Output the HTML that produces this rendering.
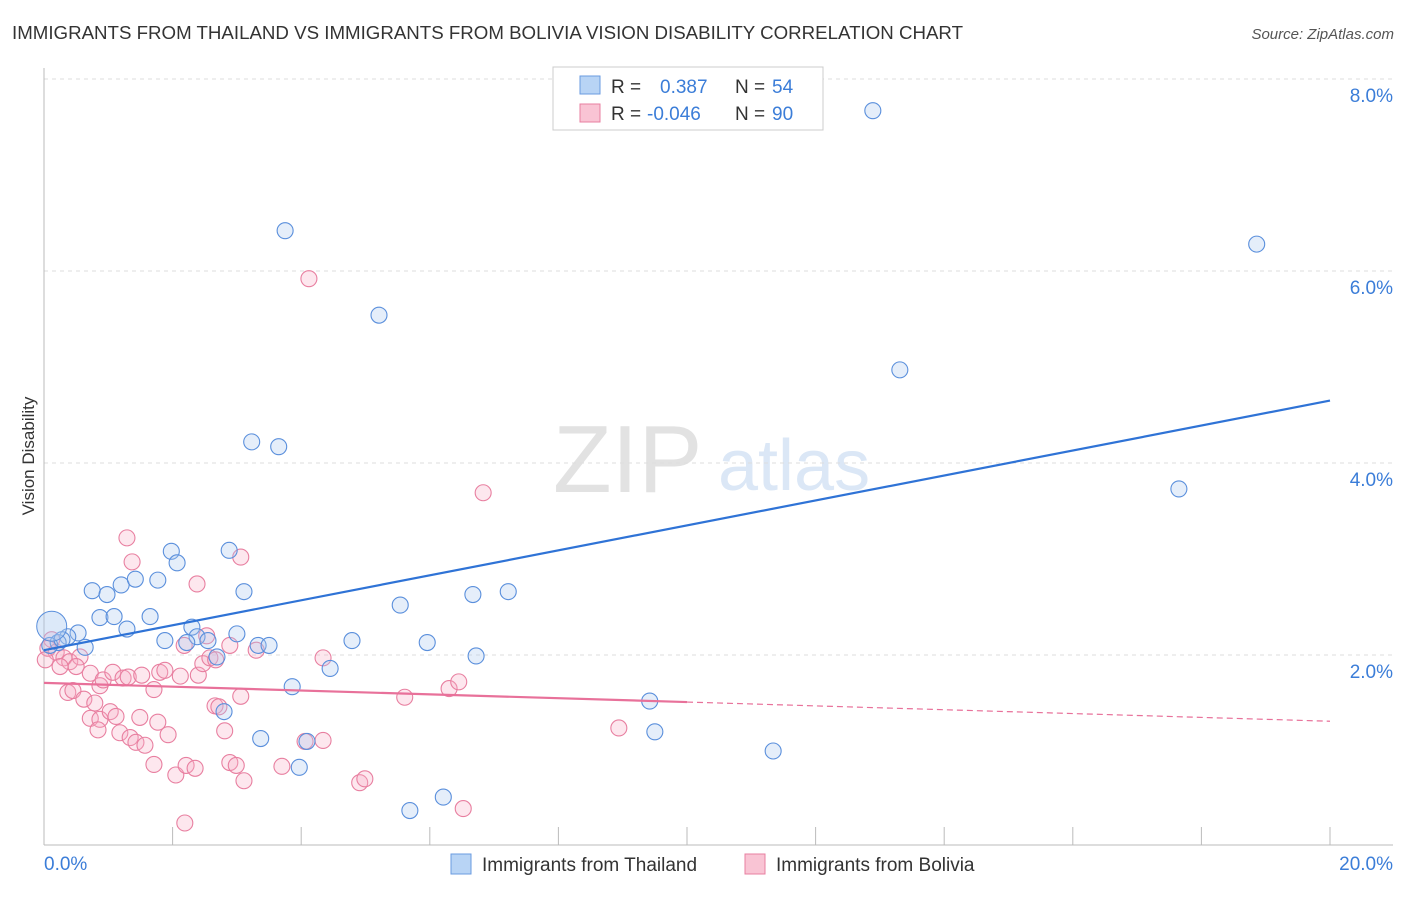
<!DOCTYPE html>
<html><head><meta charset="utf-8"><style>
body{margin:0;background:#fff;font-family:"Liberation Sans",sans-serif;}
svg text{font-family:"Liberation Sans",sans-serif;}
</style></head><body>
<svg id="chart" width="1406" height="892" xmlns="http://www.w3.org/2000/svg">
<text x="12" y="39" font-size="18" fill="#333" textLength="951" lengthAdjust="spacingAndGlyphs">IMMIGRANTS FROM THAILAND VS IMMIGRANTS FROM BOLIVIA VISION DISABILITY CORRELATION CHART</text>
<text x="1394" y="39" font-size="15" fill="#555" text-anchor="end" font-style="italic">Source: ZipAtlas.com</text>
<g>
<text x="553" y="492" font-size="96" fill="#e2e2e2" font-family="Liberation Serif">ZIP</text>
<text x="718" y="490" font-size="72" fill="#dbe7f6">atlas</text>
</g>
<g id="grid"></g>
<g id="axes"></g>
<g id="marks"></g>
<text transform="translate(34,456) rotate(-90)" font-size="17" fill="#333" text-anchor="middle">Vision Disability</text>
<g>
<rect x="553" y="67" width="270" height="63" fill="#fff" stroke="#ccc"/>
<rect x="580" y="76" width="20" height="18" fill="#b8d4f5" stroke="#6a9be0"/>
<rect x="580" y="104" width="20" height="18" fill="#f9c4d4" stroke="#e87fa0"/>
<text x="611" y="93" font-size="19" fill="#333">R =</text>
<text x="660" y="93" font-size="19" fill="#3b7dd8">0.387</text>
<text x="735" y="93" font-size="19" fill="#333">N =</text>
<text x="772" y="93" font-size="19" fill="#3b7dd8">54</text>
<text x="611" y="120" font-size="19" fill="#333">R =</text>
<text x="647" y="120" font-size="19" fill="#3b7dd8">-0.046</text>
<text x="735" y="120" font-size="19" fill="#333">N =</text>
<text x="772" y="120" font-size="19" fill="#3b7dd8">90</text>
</g>
<g>
<rect x="451" y="854" width="20" height="20" fill="#b8d4f5" stroke="#6a9be0"/>
<text x="482" y="871" font-size="19" fill="#333">Immigrants from Thailand</text>
<rect x="745" y="854" width="20" height="20" fill="#f9c4d4" stroke="#e87fa0"/>
<text x="776" y="871" font-size="19" fill="#333">Immigrants from Bolivia</text>
</g>
</svg>
<script>
const yTicks=[2,4,6,8];
const yTickLabels=["2.0%","4.0%","6.0%","8.0%"];
const xTickLabels=["0.0%","20.0%"];
const thaiPx=[[873,111],[285,231],[1257,244],[379,315],[900,370],[252,442],[279,447],[1179,489],[229,550],[171,551],[177,563],[92,591],[121,585],[135,579],[158,580],[107,595],[244,592],[400,605],[473,595],[508,592],[100,618],[114,617],[150,617],[127,629],[192,627],[78,633],[68,637],[58,643],[50,645],[85,647],[165,641],[197,637],[208,641],[237,634],[258,645],[269,645],[352,641],[427,643],[187,643],[217,657],[330,668],[476,656],[292,687],[224,712],[650,701],[655,732],[261,739],[307,741],[773,751],[299,767],[410,811],[443,797],[62,640]];
const boliviaPx=[[309,279],[483,493],[127,538],[132,562],[241,557],[197,584],[52,640],[48,648],[56,652],[64,658],[70,662],[80,657],[76,667],[90,673],[100,686],[103,680],[113,672],[123,678],[128,677],[142,675],[154,690],[160,672],[165,670],[180,676],[198,675],[203,664],[210,658],[216,660],[207,636],[230,645],[256,650],[323,658],[405,697],[449,689],[459,682],[241,696],[184,645],[68,692],[73,691],[84,699],[95,703],[90,718],[100,719],[110,712],[116,716],[140,717],[158,722],[168,735],[120,733],[130,738],[136,742],[145,745],[98,730],[215,706],[219,707],[225,731],[230,763],[236,765],[154,764],[176,775],[186,765],[195,768],[244,781],[282,766],[305,741],[323,740],[360,783],[365,779],[463,809],[185,823],[619,728],[45,660],[60,667]];
const thaiX=thaiPx.map(p=>+((p[0]-44)/64.3).toFixed(2));
const thaiY=thaiPx.map(p=>+((847-p[1])/96).toFixed(2));
const bolX=boliviaPx.map(p=>+((p[0]-44)/64.3).toFixed(2));
const bolY=boliviaPx.map(p=>+((847-p[1])/96).toFixed(2));
const thaiTrend=[2.05,4.65];
const bolTrend=[1.71,1.31];
const bolSolidEnd=10;
const sx=v=>44+v*64.3, sy=v=>847-v*96;
const NS="http://www.w3.org/2000/svg";
function mk(t,a,p){const e=document.createElementNS(NS,t);for(const k in a)e.setAttribute(k,a[k]);p.appendChild(e);return e;}
const grid=document.getElementById('grid'),axes=document.getElementById('axes'),marks=document.getElementById('marks');
yTicks.forEach((t,i)=>{
 const l=mk('line',{x1:44,x2:1393,y1:sy(t),y2:sy(t),stroke:'#ddd','stroke-dasharray':'4,4'},grid);
 
 
 const tx=mk('text',{x:1393,y:sy(t)+23,'font-size':19,fill:'#3b7dd8','text-anchor':'end'},axes);
 tx.textContent=yTickLabels[i];
 
 
});
mk('line',{x1:44,x2:44,y1:68,y2:845,stroke:'#bbb'},axes);
mk('line',{x1:44,x2:1393,y1:845,y2:845,stroke:'#bbb'},axes);
for(let i=0;i<=10;i++){mk('line',{x1:sx(i*2),x2:sx(i*2),y1:827,y2:845,stroke:'#bbb'},axes);}
[[0,'start',44],[1,'end',1393]].forEach(([i,a,x])=>{const t=mk('text',{x:x,y:870,'font-size':19,fill:'#3b7dd8','text-anchor':a},axes);t.textContent=xTickLabels[i];
 
 });
function dots(X,Y,fill,stroke,name){X.forEach((x,i)=>{const c=mk('circle',{cx:sx(x),cy:sy(Y[i]),r:8,fill:fill,'fill-opacity':0.3,stroke:stroke,'stroke-width':1.1},marks);
 
 });}
dots(bolX,bolY,'#f7b0c6','#e87fa0','bolivia-point');
dots(thaiX,thaiY,'#a8c8f0','#5a8fdc','thailand-point');
const big=mk('circle',{cx:sx(0.12),cy:sy(2.3),r:15,fill:'#a8c8f0','fill-opacity':0.4,stroke:'#5a8fdc'},marks);


const tl=mk('line',{x1:sx(0),y1:sy(thaiTrend[0]),x2:sx(20),y2:sy(thaiTrend[1]),stroke:'#2f73d6','stroke-width':2.2},marks);


const bm=bolTrend[0]+(bolTrend[1]-bolTrend[0])*bolSolidEnd/20;
const b1=mk('line',{x1:sx(0),y1:sy(bolTrend[0]),x2:sx(bolSolidEnd),y2:sy(bm),stroke:'#e8719a','stroke-width':2.2},marks);


const b2=mk('line',{x1:sx(bolSolidEnd),y1:sy(bm),x2:sx(20),y2:sy(bolTrend[1]),stroke:'#e8719a','stroke-width':1.2,'stroke-dasharray':'6,4'},marks);


</script>
</body></html>
